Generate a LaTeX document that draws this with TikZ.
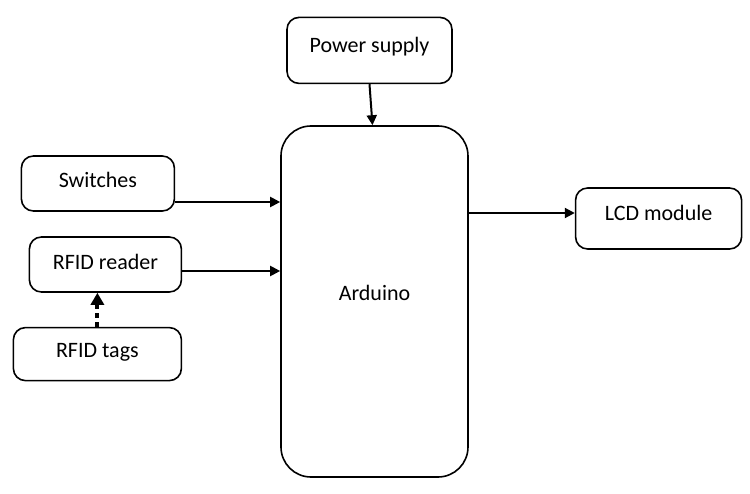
\documentclass[tikz,border=0pt]{standalone}
\usepackage{fontspec}
\setmainfont{Carlito}
\usetikzlibrary{arrows.meta, positioning}

\begin{document}
\begin{tikzpicture}[
  box/.style={rectangle, rounded corners=6pt, draw, line width=0.8pt,
              inner xsep=0pt, inner ysep=0pt, text height=16pt,
              font=\fontsize{11}{13}\selectfont},
  arr/.style={-{Triangle[length=5pt, width=5pt]}, line width=1pt},
  dotarr/.style={-{Triangle[length=6pt, width=6.5pt]}, line width=2pt,
                 dash pattern=on 2.5pt off 2pt}
]
  \useasboundingbox (-187.25pt,-95.75pt) rectangle (187.75pt,150.75pt);

  % Middle — controller
  \node[box, rounded corners=15pt, minimum width=93.5pt, minimum height=175.5pt,
        text height=7.5pt, text depth=9pt] (ard) {Arduino};
  \node[box, minimum width=82.5pt, text height=17.5pt, text depth=15.5pt, above=20.5pt of ard, xshift=-2.5pt] (pwr) {Power supply};

  % Left column — inputs
  \node[box, minimum width=76.5pt, text depth=11.5pt, left=52.5pt of ard.west, yshift=59pt] (sw) {Switches};
  \node[box, minimum width=76pt, text depth=11.5pt, left=49pt of ard.west, yshift=18.5pt] (rdr) {RFID reader};
  \node[box, minimum width=84pt, text height=15pt, text depth=11.5pt, below=17pt of rdr.south east, anchor=north east] (tags) {RFID tags};

  % Right — output
  \node[box, minimum width=83pt, text depth=14.5pt, right=53pt of ard.east, yshift=41.5pt] (lcd) {LCD module};

  \draw[arr] (pwr.south) -- ([xshift=1.5pt]pwr.south |- ard.north);
  \draw[arr] ([yshift=-9.25pt]sw.east) -- ([yshift=-9.25pt]sw.east -| ard.west);
  \draw[arr] ([yshift=-3.25pt]rdr.east) -- ([yshift=-3.25pt]rdr.east -| ard.west);
  \draw[arr] ([yshift=2.75pt]lcd.west -| ard.east) -- ([yshift=2.75pt]lcd.west);
  \draw[dotarr] (tags.north) -- (tags.north |- rdr.south);
\end{tikzpicture}
\end{document}
